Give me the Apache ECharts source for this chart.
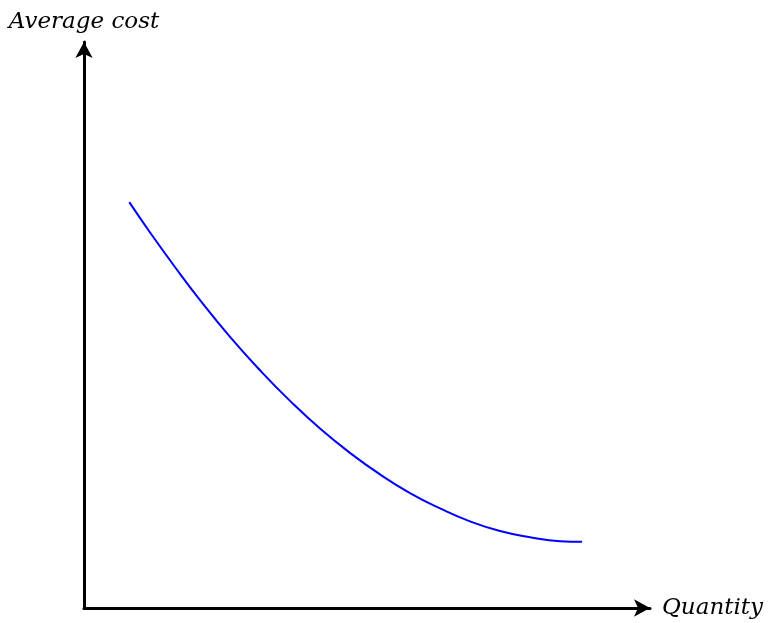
<!DOCTYPE html>
<html>
<head>
<meta charset="utf-8">
<script src="https://cdn.jsdelivr.net/npm/echarts@6/dist/echarts.min.js"></script>
<style>
html,body{margin:0;padding:0;background:#fff;}
#chart{width:771px;height:623px;}
</style>
</head>
<body>
<div id="chart"></div>
<script>
const quantity = [0.80, 1.17, 1.61, 2.05, 2.58, 3.11, 3.64, 4.17, 4.70, 5.23, 5.76, 6.29, 6.82, 7.35, 7.88, 8.41, 8.80];
const averageCost = [7.17, 6.63, 6.02, 5.44, 4.79, 4.20, 3.66, 3.17, 2.74, 2.36, 2.03, 1.76, 1.53, 1.36, 1.25, 1.18, 1.17];
const xAxisName = 'Quantity';
const yAxisName = 'Average cost';

const chart = echarts.init(document.getElementById('chart'));
const labelFont = {fontFamily: 'DejaVu Serif', fontStyle: 'italic', fontSize: 23, color: '#000'};
chart.setOption({
  animation: false,
  backgroundColor: '#fff',
  grid: {left: 84, right: 121, top: 42, bottom: 15},
  xAxis: {
    type: 'value', min: 0, max: 10,
    name: xAxisName, nameLocation: 'end', nameGap: 12,
    nameTextStyle: Object.assign({}, labelFont, {align: 'left', verticalAlign: 'middle'}),
    axisLine: {lineStyle: {color: '#000', width: 3}, symbol: ['none', 'arrow'], symbolSize: [13, 16]},
    axisTick: {show: false}, axisLabel: {show: false}, splitLine: {show: false}
  },
  yAxis: {
    type: 'value', min: 0, max: 10,
    name: yAxisName, nameLocation: 'end', nameGap: 8,
    nameTextStyle: Object.assign({}, labelFont, {align: 'center'}),
    axisLine: {lineStyle: {color: '#000', width: 3}, symbol: ['none', 'arrow'], symbolSize: [13, 16]},
    axisTick: {show: false}, axisLabel: {show: false}, splitLine: {show: false}
  },
  series: [{
    type: 'line',
    data: quantity.map((q, i) => [q, averageCost[i]]),
    smooth: true,
    showSymbol: false,
    lineStyle: {color: '#0000ff', width: 2}
  }]
});
</script>
</body>
</html>
